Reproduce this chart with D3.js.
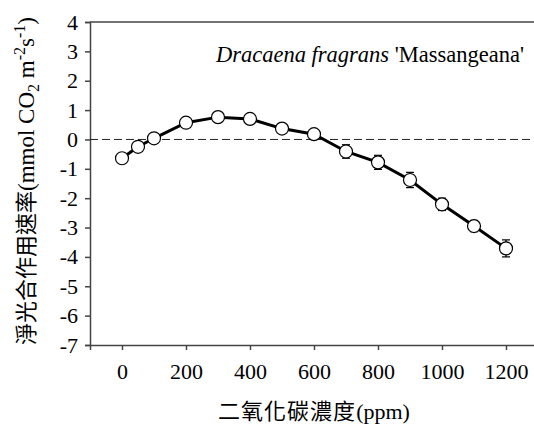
<!DOCTYPE html>
<html><head><meta charset="utf-8">
<script src="https://cdn.jsdelivr.net/npm/d3@7"></script>
<style>
html,body{margin:0;padding:0;background:#fff;}
svg{display:block;}
.serif{font-family:"Liberation Serif","Times New Roman",serif;}
.cjk{font-family:"Noto Sans CJK TC","Noto Sans CJK SC",sans-serif;}
</style></head>
<body>
<svg id="c" width="534" height="426"></svg>
<script>
const co2 = [0, 50, 100, 200, 300, 400, 500, 600, 700, 800, 900, 1000, 1100, 1200];
const rate = [-0.64, -0.25, 0.04, 0.57, 0.76, 0.70, 0.37, 0.18, -0.41, -0.78, -1.38, -2.21, -2.95, -3.71];
const err = [0.08, 0.08, 0.08, 0.08, 0.08, 0.08, 0.08, 0.08, 0.23, 0.24, 0.26, 0.21, 0.19, 0.29];
const xTicks = [0, 200, 400, 600, 800, 1000, 1200];
const yTicks = [4, 3, 2, 1, 0, -1, -2, -3, -4, -5, -6, -7];
const titleItalic = "Dracaena fragrans";
const titleRoman = " 'Massangeana'";
const xLabelCJK = "二氧化碳濃度";
const xLabelUnit = "(ppm)";
const yLabelCJK = "淨光合作用速率";

const svg = d3.select("#c");
const L = 90, R = 538, T = 22, B = 345;
const x = d3.scaleLinear().domain([-100, 1300]).range([L, R]);
const y = d3.scaleLinear().domain([-7, 4]).range([B, T]);
const axisColor = "#444";

svg.append("line").attr("x1", L).attr("x2", R).attr("y1", T).attr("y2", T)
  .attr("stroke", axisColor).attr("stroke-width", 1.5);
svg.append("line").attr("x1", R).attr("x2", R).attr("y1", T).attr("y2", B)
  .attr("stroke", axisColor).attr("stroke-width", 1.5);

const gx = svg.append("g").attr("transform", `translate(0,${B})`)
  .call(d3.axisBottom(x).tickValues(xTicks).tickSize(5).tickPadding(13).tickFormat(d3.format("d")));
const gy = svg.append("g").attr("transform", `translate(${L},0)`)
  .call(d3.axisLeft(y).tickValues(yTicks).tickSize(5).tickPadding(7).tickFormat(d => d < 0 ? "-" + Math.abs(d) : d));
[gx, gy].forEach(g => {
  g.attr("font-family", null).attr("font-size", null);
  g.select(".domain").attr("stroke", axisColor).attr("stroke-width", 1.5);
  g.selectAll(".tick line").attr("stroke", axisColor).attr("stroke-width", 1.5);
  g.selectAll(".tick text").attr("fill", "#000").attr("class", "serif").attr("font-size", 22);
});

svg.append("line").attr("x1", L).attr("x2", R).attr("y1", y(0)).attr("y2", y(0))
  .attr("stroke", "#222").attr("stroke-width", 1).attr("stroke-dasharray", "8,4");

const pts = co2.map((c, i) => ({c, v: rate[i], e: err[i]}));
svg.append("path").datum(pts)
  .attr("fill", "none").attr("stroke", "#000").attr("stroke-width", 3)
  .attr("d", d3.line().x(d => x(d.c)).y(d => y(d.v)));

const eb = svg.append("g").attr("stroke", "#000").attr("stroke-width", 1.2);
pts.forEach(d => {
  eb.append("line").attr("x1", x(d.c)).attr("x2", x(d.c)).attr("y1", y(d.v - d.e)).attr("y2", y(d.v + d.e));
  [d.v - d.e, d.v + d.e].forEach(v => eb.append("line")
    .attr("x1", x(d.c) - 4).attr("x2", x(d.c) + 4).attr("y1", y(v)).attr("y2", y(v)));
});

svg.append("g").selectAll("circle").data(pts).join("circle")
  .attr("cx", d => x(d.c)).attr("cy", d => y(d.v)).attr("r", 6.5)
  .attr("fill", "#fff").attr("stroke", "#000").attr("stroke-width", 1.2);

const tt = svg.append("text").attr("class", "serif").attr("x", 524).attr("y", 62)
  .attr("text-anchor", "end").attr("font-size", 22.5).attr("fill", "#000");
tt.append("tspan").attr("font-style", "italic").text(titleItalic);
tt.append("tspan").text(titleRoman);

const xl = svg.append("text").attr("x", (L + R) / 2).attr("y", 419).attr("text-anchor", "middle")
  .attr("font-size", 22).attr("fill", "#000");
xl.append("tspan").attr("class", "cjk").attr("letter-spacing", 1).text(xLabelCJK);
xl.append("tspan").attr("class", "serif").text(xLabelUnit);

const yl = svg.append("text").attr("transform", "translate(34,345) rotate(-90)")
  .attr("text-anchor", "start").attr("font-size", 22).attr("fill", "#000");
yl.append("tspan").attr("class", "cjk").text(yLabelCJK);
yl.append("tspan").attr("class", "serif").attr("font-size", 23).text("(mmol CO");
yl.append("tspan").attr("class", "serif").attr("font-size", 16).attr("dy", 5).text("2");
yl.append("tspan").attr("class", "serif").attr("font-size", 23).attr("dy", -5).text(" m");
yl.append("tspan").attr("class", "serif").attr("font-size", 16).attr("dy", -9).text("-2");
yl.append("tspan").attr("class", "serif").attr("font-size", 23).attr("dy", 9).text("s");
yl.append("tspan").attr("class", "serif").attr("font-size", 16).attr("dy", -9).text("-1");
yl.append("tspan").attr("class", "serif").attr("font-size", 23).attr("dy", 9).text(")");
</script>
</body></html>
